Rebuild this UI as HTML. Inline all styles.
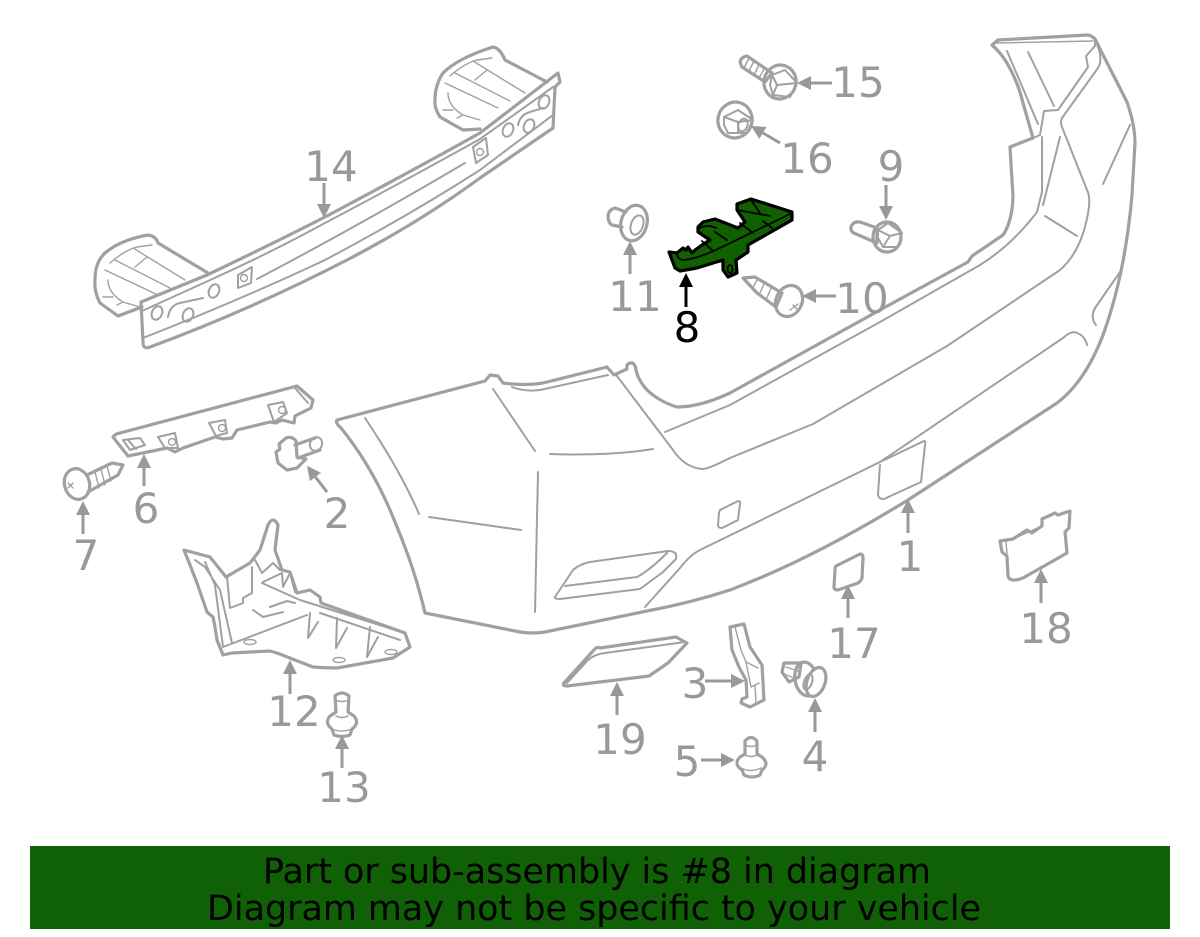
<!DOCTYPE html>
<html><head><meta charset="utf-8"><title>Diagram</title>
<style>
html,body{margin:0;padding:0;background:#fff;width:1200px;height:937px;overflow:hidden}
svg{display:block}
text{font-family:"DejaVu Sans","Liberation Sans",sans-serif}
.l text{fill:#999;font-size:42px;text-anchor:middle}
.o{fill:none;stroke:#a0a0a0;stroke-width:3.2;stroke-linejoin:round;stroke-linecap:round}
.i{fill:none;stroke:#a0a0a0;stroke-width:2;stroke-linejoin:round;stroke-linecap:round}
.t{fill:none;stroke:#a0a0a0;stroke-width:1.4;stroke-linejoin:round;stroke-linecap:round}
.a{stroke:#999;stroke-width:3;fill:none;marker-end:url(#ah)}
.g{fill:#106000;stroke:#000;stroke-width:3.2;stroke-linejoin:round}
.gl{fill:none;stroke:#000;stroke-width:1.8;stroke-linejoin:round;stroke-linecap:round}
</style></head><body>
<svg width="1200" height="937" viewBox="0 0 1200 937" xmlns="http://www.w3.org/2000/svg">
<defs>
<marker id="ah" markerUnits="userSpaceOnUse" markerWidth="16" markerHeight="16" refX="0" refY="8" orient="auto"><path d="M0,1L14,8L0,15z" fill="#999"/></marker>
<marker id="ak" markerUnits="userSpaceOnUse" markerWidth="16" markerHeight="16" refX="0" refY="8" orient="auto"><path d="M0,1L14,8L0,15z" fill="#000"/></marker>
</defs>
<rect width="1200" height="937" fill="#fff"/>

<!-- bumper -->
<path class="o" d="M337,420Q335,423 341,428Q375,470 397,527Q415,570 425,613L520,632Q532,634 545,632L647,611Q690,603 730,590Q810,560 908,500L1057,403Q1085,382 1103,335Q1125,275 1132,195L1135,143Q1135,125 1127,102L1095,39Q1091,35 1087,35L998,40L992,45Q1001,53 1007,63Q1018,82 1023,103L1033,138L1010,147L1013,197Q1012,222 1003,235L972,256L968,262L880,310L730,393Q700,407 677,407Q660,402 647,390Q638,380 636,370Q635,362 630,363Q626,364 627,369L614,375L607,367L543,383Q525,386 503,383L498,376L490,375L485,381Z"/>
<path class="t" d="M995,43L1093,41"/>
<path class="i" d="M1007,51L1038,124M1028,52L1054,106M1033,138L1040,135L1044,111L1058,110L1088,67L1086,56L1095,46L1095,40"/>
<path class="i" d="M1042,137V192L1037,212Q1012,245 980,265L880,322L730,405L665,432"/>
<path class="i" d="M617,376L673,450Q685,468 703,469Q708,469 730,458L813,424L947,346L1060,270Q1083,250 1089,207Q1090,195 1087,190L1062,127Q1060,122 1062,118L1098,68Q1104,58 1095,40"/>
<path class="i" d="M645,607L680,568Q690,555 700,550L880,462L1063,338Q1072,330 1077,333Q1085,336 1087,345"/>
<path class="i" d="M1060,137L1043,205M1045,216L1077,236M1130,125L1103,184M1120,272L1095,308Q1090,318 1096,325"/>
<path class="i" d="M365,418Q400,470 419,514M429,517L521,530M538,472L535,612M493,389L535,451M550,454Q610,456 653,449M512,387Q525,392 540,390L608,375"/>
<path class="i" d="M880,462L924,441Q926,441 925,445L921,482L884,499Q878,499 878,494L880,465"/>
<path class="i" d="M720,510L738,501Q741,501 740,504L738,520L722,528Q718,528 718,525L719,513Z"/>
<path class="i" d="M555,597L573,570Q580,564 590,562L668,551Q678,551 676,559L663,572L640,589L560,599Q554,599 555,597ZM565,586L637,577Q650,570 667,553"/>

<!-- 14 beam -->
<path class="o" d="M141,302L143,342Q143,350 150,347Q250,310 347,260Q420,222 480,178L553,128L555,87L560,82L558,73L480,133Q410,172 325,217Q270,245 207,275Z"/>
<path class="i" d="M143,338Q240,300 325,260Q410,215 480,170L553,115M142,311L208,281Q270,253 325,223Q410,178 480,139L553,87M257,279Q360,225 465,163"/>
<g class="i"><ellipse cx="157" cy="313" rx="5" ry="7" transform="rotate(25 157 313)"/><ellipse cx="214" cy="291" rx="5" ry="7" transform="rotate(25 214 291)"/><ellipse cx="188" cy="315" rx="5" ry="7" transform="rotate(25 188 315)"/><ellipse cx="508" cy="130" rx="5" ry="7" transform="rotate(25 508 130)"/><ellipse cx="529" cy="126" rx="5" ry="7" transform="rotate(25 529 126)"/><ellipse cx="544" cy="102" rx="5" ry="7" transform="rotate(25 544 102)"/></g>
<path class="i" d="M168,317Q170,305 180,303L203,298M518,125Q520,115 530,112L543,108M238,275L252,267L251,283L238,288ZM473,147L486,138L488,155L476,163Z"/>
<circle class="t" cx="244" cy="278" r="3.5"/><circle class="t" cx="480" cy="152" r="3.5"/>
<path class="o" d="M142,307L118,316L100,303Q94,292 95,280Q95,262 105,253Q120,240 148,235Q156,236 158,243L208,273"/>
<path class="o" d="M480,129L463,130L440,117Q434,108 435,100Q435,85 443,73Q458,58 493,47Q500,48 505,60L547,82"/>
<g class="t"><path d="M105,270L158,295M115,260L170,288M133,248L185,280M135,267L147,257M108,280Q108,293 123,302L140,307M103,297H113M110,263Q125,250 137,247L152,245M117,305L123,302"/></g>
<g class="t" transform="translate(340 -187)"><path d="M105,270L158,295M115,260L170,288M133,248L185,280M135,267L147,257M108,280Q108,293 123,302L140,307M103,297H113M110,263Q125,250 137,247L152,245M117,305L123,302"/></g>

<!-- 6 -->
<path class="o" d="M113,437Q115,434 120,433L297,386L313,400L311,408L295,416L294,423L282,420L276,423L270,422L237,430L232,438L223,439L215,437L183,448L175,452L167,448L128,456Z"/>
<path class="i" d="M158,437L175,433L178,448L165,448ZM209,423L225,420L227,433L216,436ZM268,405L283,402L287,413L274,422ZM123,440L140,438L145,445L130,450ZM128,440L136,449M295,388L308,403"/>
<circle class="t" cx="172" cy="442" r="3.5"/><circle class="t" cx="222" cy="428" r="3.5"/><circle class="t" cx="282" cy="410" r="3.5"/>

<!-- 7 screw -->
<ellipse class="o" cx="77" cy="484" rx="12.5" ry="15.5" transform="rotate(-15 77 484)"/>
<path class="o" d="M87,475L112,463L123,465L118,475L88,492"/>
<path class="t" d="M95,472L99,488M101,469L105,485M107,466L111,481M68,483L73,488M68,488L73,483"/>

<!-- 2 clip -->
<path class="o" d="M286,438Q292,436 296,441L297,457L306,459L297,468L287,470L278,463L276,452L280,449L279,444Z"/>
<path class="o" d="M295,445L315,438M298,458L320,450"/>
<ellipse class="i" cx="316" cy="444" rx="6" ry="7" transform="rotate(20 316 444)"/>

<!-- 12 -->
<path class="o" d="M184,550L210,557L226,577L250,563L260,550L268,525Q273,515 278,525L275,550L282,570L290,572L297,593L310,590L320,597L321,603L405,633L410,647L393,658L337,668Q325,668 313,667L277,653L270,651L250,652L232,653L223,655L217,640L215,627L213,617L207,612L197,583L190,565Z"/>
<path class="i" d="M195,560L205,567L220,590L232,643M205,562L215,585L223,647L307,615M227,577L230,608L243,603V598L252,593V567M255,560L262,573L273,563L280,570M263,582L282,573L283,587L290,573L295,592M262,583L300,600L405,633M253,610L263,617L283,612M270,607L287,601L295,603M320,613L400,640"/>
<path class="i" d="M310,613L308,638L318,622M337,618L336,648L347,628M370,627L367,657L378,637"/>
<ellipse class="t" cx="250" cy="642" rx="6" ry="2.5"/><ellipse class="t" cx="339" cy="660" rx="6" ry="2.5"/><ellipse class="t" cx="391" cy="652" rx="6" ry="2.5"/>

<!-- 13 -->
<path class="o" d="M335,696Q342,690 349,696L348,712L354,716Q360,723 352,729L350,735Q342,738 334,735L332,729Q324,723 330,716L336,712Z"/>
<path class="t" d="M335,700Q342,703 349,700M336,716Q342,719 348,716M332,729Q342,733 352,729"/>

<!-- 15 -->
<path class="o" d="M740,62Q741,57 747,56L772,73L765,82L742,67Z"/>
<path class="t" d="M749,58L744,68M754,61L749,71M759,65L754,75M764,69L759,78"/>
<ellipse class="o" cx="780" cy="82" rx="16" ry="17" transform="rotate(15 780 82)"/>
<path class="i" d="M772,75L785,70L797,83L790,97L773,95L770,85ZM772,75L777,85L797,83M777,85L773,95"/>

<!-- 16 -->
<ellipse class="o" cx="735" cy="120" rx="17" ry="18" transform="rotate(15 735 120)"/>
<path class="i" d="M724,117L738,110L753,120L747,133L728,133L724,125ZM724,117L738,122L753,120M738,122L738,133"/>
<ellipse class="i" cx="743" cy="125" rx="4.5" ry="6.5" transform="rotate(20 743 125)"/>

<!-- 9 -->
<path class="o" d="M851,227Q853,221 860,222L877,228L877,243L856,234Q850,232 851,227Z"/>
<ellipse class="o" cx="887" cy="237" rx="14" ry="15"/>
<path class="i" d="M878,230L888,223L902,233L898,247L883,247L878,238ZM878,230L890,236L902,233M890,236L883,247"/>

<!-- 11 -->
<path class="o" d="M626,212L615,208Q608,210 608,217Q609,224 612,225L622,227"/>
<ellipse class="o" cx="634" cy="223" rx="13" ry="18" transform="rotate(15 634 223)"/>
<ellipse class="i" cx="637" cy="225" rx="6" ry="10" transform="rotate(20 637 225)"/>

<!-- 10 -->
<ellipse class="o" cx="789" cy="301" rx="13" ry="16" transform="rotate(25 789 301)"/>
<path class="o" d="M743,278L755,277L782,293L776,307L757,293Z"/>
<path class="t" d="M757,280L752,289M764,284L759,295M771,288L766,300M793,305L797,309M790,310L798,304"/>

<!-- 8 -->
<path class="g" d="M669,252L677,253L683,248L686,250L688,247L692,253L695,250L702,245L710,240L698,232L698,227L703,222L715,219L738,228L745,222L737,210L737,204L751,199L792,212L792,220L748,245L748,252L736,260L737,273L728,277L723,270L723,260L697,268L680,271L675,268Z"/>
<path class="gl" d="M677,254Q678,260 684,260Q700,258 722,247L792,213M702,241L712,250M715,232L727,240M740,223L753,233M751,200L760,213M737,210L770,216M763,221L772,228M700,228Q707,224 716,228"/>
<ellipse class="gl" cx="730" cy="269" rx="2.5" ry="4"/>

<!-- 19 -->
<path class="o" d="M564,683L593,651Q597,646 600,648L676,637L687,643L668,663L649,676L567,686Q562,686 564,683Z"/>
<path class="i" d="M567,683L588,660Q595,654 605,653L685,642"/>

<!-- 3 -->
<path class="o" d="M730,627L744,624L750,647L762,665L764,700L750,707L741,703L742,699L747,697L746,680L739,667L732,650Z"/>
<path class="t" d="M735,627L741,650L746,662L758,668M746,662L751,687L759,683M755,685L756,703"/>

<!-- 4 -->
<path class="o" d="M784,663L801,663L799,677L789,682L782,672Z"/>
<path class="t" d="M786,667L798,671M784,674L794,678"/>
<ellipse class="o" cx="806" cy="679" rx="11" ry="17" transform="rotate(-10 806 679)"/>
<ellipse class="o" cx="816" cy="682" rx="9" ry="15" transform="rotate(20 816 682)" style="fill:#fff"/>
<ellipse class="i" cx="808" cy="682" rx="4" ry="8" transform="rotate(20 808 682)"/>

<!-- 5 -->
<path class="o" d="M745,741Q751,734 757,741L757,754L762,757Q770,764 762,770L760,775Q752,779 744,775L742,770Q733,764 740,757L745,754Z"/>
<path class="t" d="M745,745Q751,748 757,745M745,755Q751,758 757,755M741,768Q751,773 761,768"/>

<!-- 17 -->
<path class="o" d="M836,566L860,554Q863,554 863,558L862,578Q861,581 858,583L838,590Q834,590 834,587L835,570Q835,567 836,566Z"/>

<!-- 18 -->
<path class="o" d="M1000,541L1013,539L1027,530L1032,533L1042,526V519L1055,513L1058,515L1070,511L1069,528L1065,532L1067,553L1023,578Q1010,583 1008,576L1007,556L1002,552Z"/>
<path class="t" d="M1006,541L1007,556M1013,539L1042,526"/>

<!-- arrows -->
<path class="a" d="M324,183V204"/>
<path class="a" d="M832,83H811"/>
<path class="a" d="M780,143L763,133"/>
<path class="a" d="M886,185V206"/>
<path class="a" d="M630,274V255"/>
<path d="M686,307V287" stroke="#000" stroke-width="3" fill="none" marker-end="url(#ak)"/>
<path class="a" d="M836,296H816"/>
<path class="a" d="M908,533V513"/>
<path class="a" d="M327,492L315.5,477"/>
<path class="a" d="M144,486V468"/>
<path class="a" d="M83,534V515"/>
<path class="a" d="M290,694V674"/>
<path class="a" d="M342,768V749"/>
<path class="a" d="M848,618V599"/>
<path class="a" d="M1041,603V583"/>
<path class="a" d="M617,715V696"/>
<path class="a" d="M705,681H731"/>
<path class="a" d="M701,760H721"/>
<path class="a" d="M815,732V712"/>

<!-- labels -->
<g class="l">
<text x="331" y="181">14</text><text x="858" y="97">15</text><text x="807" y="173">16</text><text x="891" y="181">9</text>
<text x="635" y="311">11</text><text x="862" y="313">10</text><text x="910" y="571">1</text><text x="337" y="528">2</text>
<text x="146" y="523">6</text><text x="86" y="570">7</text><text x="294" y="726">12</text><text x="344" y="802">13</text>
<text x="854" y="658">17</text><text x="1046" y="643">18</text><text x="620" y="754">19</text><text x="695" y="698">3</text>
<text x="687" y="776">5</text><text x="815" y="771">4</text>
<text x="687" y="342" style="fill:#000">8</text>
</g>

<!-- banner -->
<rect x="30" y="846" width="1140" height="83" fill="#106006"/>
<text x="597" y="883" font-size="34.6" text-anchor="middle" fill="#000" textLength="668" lengthAdjust="spacingAndGlyphs">Part or sub-assembly is #8 in diagram</text>
<text x="594" y="920" font-size="34.6" text-anchor="middle" fill="#000" textLength="774" lengthAdjust="spacingAndGlyphs">Diagram may not be specific to your vehicle</text>
</svg>
</body></html>
